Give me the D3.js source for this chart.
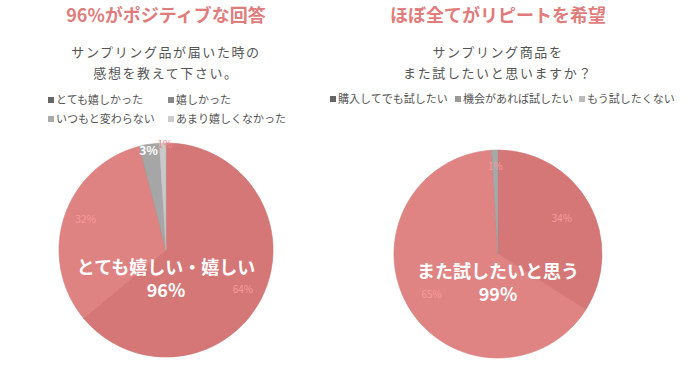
<!DOCTYPE html>
<html>
<head>
  <meta charset="utf-8">
  <script src="https://d3js.org/d3.v7.min.js"></script>
  <style>
    body { margin: 0; background: #fff; }
    svg { font-family: "Noto Sans CJK JP", "Noto Sans", sans-serif; }
    .title { fill: #e07c7c; font-size: 18px; font-weight: bold; }
    .question { fill: #555; font-size: 13px; letter-spacing: 1.6px; }
    .legend text { fill: #555; font-size: 11px; }
    .pct { font-size: 10px; }
    .center-label { fill: #fff; font-size: 18px; font-weight: bold; }
  </style>
</head>
<body>
  <svg id="chart"></svg>

  <script>
    // left chart
    const leftTitle = "96%がポジティブな回答";
    const leftQuestion = ["サンプリング品が届いた時の", "感想を教えて下さい。"];
    const leftCategories = ["とても嬉しかった", "嬉しかった", "いつもと変わらない", "あまり嬉しくなかった"];
    const leftValues = [64, 32, 3, 1];
    const leftCenter = ["とても嬉しい・嬉しい", "96%"];

    // right chart
    const rightTitle = "ほぼ全てがリピートを希望";
    const rightQuestion = ["サンプリング商品を", "また試したいと思いますか？"];
    const rightCategories = ["購入してでも試したい", "機会があれば試したい", "もう試したくない"];
    const rightValues = [34, 65, 1];
    const rightCenter = ["また試したいと思う", "99%"];

    const width = 700, height = 371;
    const svg = d3.select("#chart").attr("width", width).attr("height", height);

    const pie = d3.pie().sort(null).value(d => d);

    function drawPie(opts) {
      const g = svg.append("g");

      g.append("text").attr("class", "title")
        .attr("x", opts.cx).attr("y", 22)
        .attr("text-anchor", "middle").text(opts.title);

      g.selectAll(".question").data(opts.question).enter()
        .append("text").attr("class", "question")
        .attr("x", opts.cx).attr("y", (d, i) => 57 + i * 21)
        .attr("text-anchor", "middle").text(d => d);

      // legend
      const lg = g.append("g").attr("class", "legend");
      opts.categories.forEach((c, i) => {
        const p = opts.legendPos[i];
        lg.append("rect").attr("x", p[0]).attr("y", p[1] - 7)
          .attr("width", 6).attr("height", 6).attr("fill", opts.legendColors[i]);
        lg.append("text").attr("x", p[0] + 8).attr("y", p[1]).text(c);
      });

      const arcs = pie(opts.values);
      const arc = d3.arc().innerRadius(0).outerRadius(opts.r);
      const pg = g.append("g").attr("transform", `translate(${opts.cx},${opts.cy})`);

      pg.selectAll("path").data(arcs).enter()
        .append("path")
        .attr("d", arc)
        .attr("fill", (d, i) => opts.colors[i])
        .attr("stroke", (d, i) => opts.strokes[i])
        .attr("stroke-width", 0.6);

      // slice percentage labels
      pg.selectAll(".pct").data(arcs).enter()
        .append("text")
        .attr("class", "pct")
        .attr("text-anchor", "middle")
        .attr("dominant-baseline", "middle")
        .attr("transform", (d, i) => {
          const a = (d.startAngle + d.endAngle) / 2 + opts.labelDa[i];
          const rr = opts.r * opts.labelR[i];
          return `translate(${Math.sin(a) * rr},${-Math.cos(a) * rr})`;
        })
        .style("fill", (d, i) => opts.labelColors[i])
        .style("font-weight", (d, i) => opts.labelColors[i] === "#fff" ? "bold" : "normal")
        .style("font-size", (d, i) => opts.labelColors[i] === "#fff" ? "12px" : "10px")
        .text(d => d.data + "%");

      pg.selectAll(".center-label").data(opts.center).enter()
        .append("text").attr("class", "center-label")
        .attr("text-anchor", "middle")
        .attr("x", 0).attr("y", (d, i) => 24 + i * 23)
        .text(d => d);
    }

    drawPie({
      cx: 166, cy: 250, r: 107,
      title: leftTitle, question: leftQuestion,
      categories: leftCategories, values: leftValues, center: leftCenter,
      colors: ["#d57777", "#df8282", "#a6a6a6", "#c9c9c9"],
      strokes: ["#c97070", "#d67a7a", "#999", "#bbb"],
      legendColors: ["#666", "#888", "#aaa", "#ccc"],
      legendPos: [[48, 104], [168, 104], [48, 123], [168, 123]],
      labelR: [0.81, 0.8, 0.93, 0.98],
      labelDa: [0.04, 0.04, -0.02, 0.02],
      labelColors: ["#f79c9c", "#f79c9c", "#fff", "#f08a8a"]
    });

    drawPie({
      cx: 498, cy: 254, r: 104,
      title: rightTitle, question: rightQuestion,
      categories: rightCategories, values: rightValues, center: rightCenter,
      colors: ["#d57777", "#e08383", "#a8a8a8"],
      strokes: ["#c97070", "#d67a7a", "#999"],
      legendColors: ["#666", "#999", "#bbb"],
      legendPos: [[330, 103], [455, 103], [579, 103]],
      labelR: [0.7, 0.75, 0.83],
      labelDa: [0, -0.02, 0],
      labelColors: ["#f79c9c", "#f79c9c", "#f79c9c"]
    });
  </script>
</body>
</html>
